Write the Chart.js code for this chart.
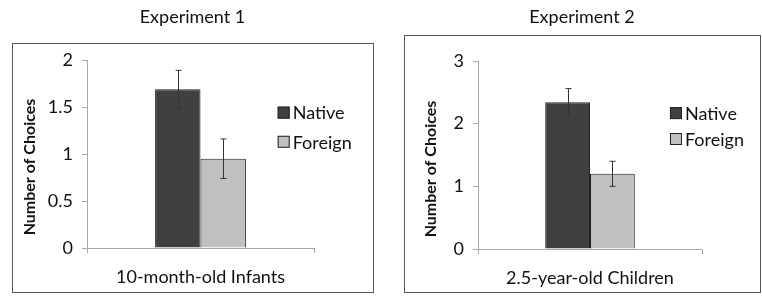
<!DOCTYPE html>
<html>
<head>
<meta charset="utf-8">
<script src="https://cdn.jsdelivr.net/npm/chart.js@4.4.1/dist/chart.umd.min.js"></script>
<style>
  html, body { margin: 0; padding: 0; background: #fff; }
  #wrap { position: relative; width: 762px; height: 297px; }
  .panel { position: absolute; top: 0; width: 381px; height: 297px; }
</style>
</head>
<body>
<div id="wrap">
  <div class="panel" style="left:0"><canvas id="c1" width="381" height="297"></canvas></div>
  <div class="panel" style="left:381px"><canvas id="c2" width="381" height="297"></canvas></div>
</div>
<script>
// ---------- Data ----------
const seriesNames = ["Native", "Foreign"];

const titles = ["Experiment 1", "Experiment 2"];
const yAxisTitle = "Number of Choices";

const categories1 = ["10-month-old Infants"];
const native1 = [1.69];
const foreign1 = [0.95];
const nativeErr1 = [0.20];
const foreignErr1 = [0.21];
const yTicks1 = [0, 0.5, 1, 1.5, 2];

const categories2 = ["2.5-year-old Children"];
const native2 = [2.34];
const foreign2 = [1.20];
const nativeErr2 = [0.22];
const foreignErr2 = [0.20];
const yTicks2 = [0, 1, 2, 3];

// ---------- Styles ----------
const FONT = "Lato, 'Open Sans', sans-serif";
const NATIVE_FILL = "#404040";
const FOREIGN_FILL = "#c0c0c0";
const BAR_EDGE = "#222";
const AXIS = "#a8a8a8";
const TEXT = "#111";

// frame, title, y-title and legend decorations drawn on the canvas
const decor = {
  id: "decor",
  afterDraw(chart, args, o) {
    const ctx = chart.ctx;
    const a = chart.chartArea;
    const [fx0, fy0, fx1, fy1] = o.frame;
    ctx.save();
    // outer box
    ctx.strokeStyle = "#555";
    ctx.lineWidth = 1;
    ctx.strokeRect(fx0 + 0.5, fy0 + 0.5, fx1 - fx0, fy1 - fy0);
    // title
    ctx.fillStyle = TEXT;
    ctx.font = "18px " + FONT;
    ctx.textAlign = "center";
    ctx.textBaseline = "middle";
    ctx.fillText(o.title, (fx0 + fx1) / 2, o.titleY);
    // y axis title
    ctx.save();
    ctx.translate(o.yTitle[0], o.yTitle[1]);
    ctx.rotate(-Math.PI / 2);
    ctx.font = "bold 16px " + FONT;
    ctx.fillText(yAxisTitle, 0, 0);
    ctx.restore();
    // legend
    const lx = a.left + o.legendX * (a.right - a.left);
    chart.data.datasets.forEach((ds, i) => {
      const ly = a.top + o.legendY[i] * (a.bottom - a.top);
      ctx.fillStyle = ds.backgroundColor;
      ctx.fillRect(lx, ly - 6, 12, 12);
      ctx.strokeStyle = BAR_EDGE;
      ctx.strokeRect(lx + 0.5, ly - 5.5, 11, 11);
      ctx.fillStyle = TEXT;
      ctx.font = "18px " + FONT;
      ctx.textAlign = "left";
      ctx.fillText(ds.label, lx + 15, ly + 1);
    });
    ctx.restore();
  }
};

// error bars
const errorBars = {
  id: "errorBars",
  afterDatasetsDraw(chart) {
    const ctx = chart.ctx;
    const ys = chart.scales.y;
    ctx.save();
    ctx.strokeStyle = "#333";
    ctx.lineWidth = 1;
    chart.data.datasets.forEach((ds, i) => {
      chart.getDatasetMeta(i).data.forEach((bar, j) => {
        const v = ds.data[j], e = ds.errors[j];
        const x = Math.round(bar.x) + 0.5;
        const y0 = ys.getPixelForValue(v + e);
        const y1 = ys.getPixelForValue(v - e);
        ctx.beginPath();
        ctx.moveTo(x, y0); ctx.lineTo(x, y1);
        ctx.moveTo(x - 3, y0); ctx.lineTo(x + 3, y0);
        ctx.moveTo(x - 3, y1); ctx.lineTo(x + 3, y1);
        ctx.stroke();
      });
    });
    ctx.restore();
  }
};

function makePanel(id, cats, nat, nErr, forg, fErr, ticks, area, dec) {
  const W = 381, H = 297;
  return new Chart(document.getElementById(id), {
    type: "bar",
    data: {
      labels: cats,
      datasets: [
        { label: seriesNames[0], data: nat, errors: nErr, backgroundColor: NATIVE_FILL,
          borderColor: BAR_EDGE, borderWidth: 1 },
        { label: seriesNames[1], data: forg, errors: fErr, backgroundColor: FOREIGN_FILL,
          borderColor: BAR_EDGE, borderWidth: 1 }
      ]
    },
    options: {
      responsive: false,
      animation: false,
      events: [],
      layout: { padding: { left: 0, right: W - area.right, top: area.top, bottom: 0 } },
      datasets: { bar: { categoryPercentage: 0.4, barPercentage: 1.0 } },
      plugins: { legend: { display: false }, tooltip: { enabled: false }, decor: dec },
      scales: {
        x: {
          grid: { drawOnChartArea: false, offset: true, tickLength: 5, color: AXIS },
          border: { color: AXIS },
          ticks: { color: TEXT, font: { family: FONT, size: 18 }, padding: 13 },
          afterFit: s => { s.height = H - area.bottom; }
        },
        y: {
          min: ticks[0],
          max: ticks[ticks.length - 1],
          afterBuildTicks: s => { s.ticks = ticks.map(v => ({ value: v })); },
          grid: { drawOnChartArea: false, tickLength: 5, color: AXIS },
          border: { color: AXIS },
          ticks: { color: TEXT, font: { family: FONT, size: 18 }, padding: 9,
                   callback: v => String(v) },
          afterFit: s => { s.width = area.left; }
        }
      }
    },
    plugins: [errorBars, decor]
  });
}

makePanel("c1", categories1, native1, nativeErr1, foreign1, foreignErr1, yTicks1,
  { left: 87, right: 314, top: 60, bottom: 248 },
  { frame: [12, 43, 373, 292], title: titles[0], titleY: 17, yTitle: [30, 167],
    legendX: 0.84, legendY: [0.28, 0.435] });

makePanel("c2", categories2, native2, nativeErr2, foreign2, foreignErr2, yTicks2,
  { left: 97, right: 321, top: 61, bottom: 249 },
  { frame: [23, 35, 379, 292], title: titles[1], titleY: 17, yTitle: [50, 169],
    legendX: 0.857, legendY: [0.277, 0.415] });
</script>
</body>
</html>
